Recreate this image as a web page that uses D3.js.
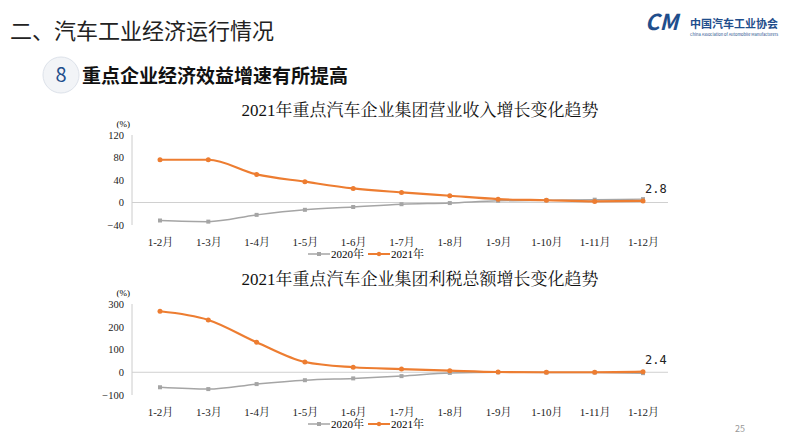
<!DOCTYPE html>
<meta charset="utf-8">
<script src="https://cdn.jsdelivr.net/npm/d3@7"></script>
<style>
body { margin:0; background:#fff; }
svg { font-family: "Noto Sans CJK SC", sans-serif; }
.serif { font-family: "Liberation Serif", "Noto Serif CJK SC", "Noto Sans CJK SC", serif !important; }
</style>
<svg id="c" width="800" height="447"></svg>
<script>
var months = ["1-2月","1-3月","1-4月","1-5月","1-6月","1-7月","1-8月","1-9月","1-10月","1-11月","1-12月"];
var rev2020 = [-32,-34,-22,-13,-8,-3,-1,3,4,5,6];
var rev2021 = [76,76,50,37,25,18,12,6,4,2,2.8];
var tax2020 = [-66,-74,-52,-35,-27,-17,-3,0,-1,-1,-4];
var tax2021 = [268,230,132,45,22,14,7,1,0,0,2.4];
var revTicks = [-40,0,40,80,120];
var taxTicks = [-100,0,100,200,300];

var svg = d3.select("#c");

// header
svg.append("text").attr("x",10).attr("y",39).attr("font-size",22).attr("fill","#222").text("二、汽车工业经济运行情况");
svg.append("circle").attr("cx",61).attr("cy",75).attr("r",18).attr("fill","#f2f4f7").attr("stroke","#dde2ea");
svg.append("text").attr("x",61).attr("y",82).attr("text-anchor","middle").attr("font-size",20).attr("fill","#1f4e8c").text("8");
svg.append("text").attr("x",82).attr("y",83).attr("font-size",19).attr("font-weight","bold").attr("fill","#111").text("重点企业经济效益增速有所提高");
svg.append("text").attr("x",645).attr("y",30).attr("font-size",22).attr("font-weight","bold").attr("fill","#1f4e8c").attr("font-style","italic").text("CM");
svg.append("text").attr("x",690).attr("y",28).attr("font-size",11).attr("font-weight","bold").attr("fill","#1f4e8c").text("中国汽车工业协会");
svg.append("text").attr("x",690).attr("y",36).attr("font-size",4).attr("fill","#1f4e8c").text("China Association of Automobile Manufacturers");
svg.append("text").attr("x",735).attr("y",432).attr("font-size",9).attr("fill","#999").text("25");

var x = d3.scalePoint().domain(months).range([160,643]);

function chart(title, ty, d20, d21, ticks, y0, y1, lastLabel) {
  var y = d3.scaleLinear().domain([ticks[0], ticks[ticks.length-1]]).range([y1, y0]);
  svg.append("text").attr("class","serif").attr("x",420).attr("y",ty).attr("text-anchor","middle").attr("font-size",17).attr("fill","#111").text(title);
  svg.append("text").attr("class","serif").attr("x",130).attr("y",y0-8).attr("text-anchor","end").attr("font-size",9).text("(%)");
  var g = svg.append("g");
  g.append("line").attr("x1",132).attr("x2",132).attr("y1",y0).attr("y2",y1).attr("stroke","#ccc");
  g.append("line").attr("x1",132).attr("x2",668).attr("y1",y(0)).attr("y2",y(0)).attr("stroke","#d0d0d0");
  var ax = g.append("g").attr("transform","translate(132,0)").call(d3.axisLeft(y).tickValues(ticks).tickSize(0).tickPadding(8));
  ax.select(".domain").remove();
  ax.selectAll("text").attr("class","serif").attr("font-size",10.5).attr("fill","#222");
  var xa = g.append("g").attr("transform","translate(0,"+(y1+10)+")").call(d3.axisBottom(x).tickSize(0));
  xa.select(".domain").remove();
  xa.selectAll("text").attr("class","serif").attr("font-size",11).attr("fill","#222");
  var line = d3.line().x(function(d,i){return x(months[i]);}).y(function(d){return y(d);}).curve(d3.curveMonotoneX);
  g.append("path").datum(d20).attr("d",line).attr("fill","none").attr("stroke","#a5a5a5").attr("stroke-width",1.5);
  g.selectAll(".p20").data(d20).enter().append("rect").attr("x",function(d,i){return x(months[i])-2;}).attr("y",function(d){return y(d)-2;}).attr("width",4).attr("height",4).attr("fill","#a5a5a5");
  g.append("path").datum(d21).attr("d",line).attr("fill","none").attr("stroke","#ed7d31").attr("stroke-width",2.2);
  g.selectAll(".p21").data(d21).enter().append("circle").attr("cx",function(d,i){return x(months[i]);}).attr("cy",function(d){return y(d);}).attr("r",2.5).attr("fill","#ed7d31");
  svg.append("text").attr("x",x(months[10])+2).attr("y",y(d21[10])-8).attr("font-family","DejaVu Sans Mono").attr("font-size",12).attr("fill","#222").text(lastLabel);
  var ly = y1 + 29;
  var lg = svg.append("g");
  lg.append("line").attr("x1",308).attr("x2",330).attr("y1",ly).attr("y2",ly).attr("stroke","#a5a5a5").attr("stroke-width",1.5);
  lg.append("rect").attr("x",317).attr("y",ly-2).attr("width",4).attr("height",4).attr("fill","#a5a5a5");
  lg.append("text").attr("class","serif").attr("x",331).attr("y",ly+4).attr("font-size",11).text("2020年");
  lg.append("line").attr("x1",368).attr("x2",390).attr("y1",ly).attr("y2",ly).attr("stroke","#ed7d31").attr("stroke-width",2);
  lg.append("circle").attr("cx",379).attr("cy",ly).attr("r",2.2).attr("fill","#ed7d31");
  lg.append("text").attr("class","serif").attr("x",391).attr("y",ly+4).attr("font-size",11).text("2021年");
}

chart("2021年重点汽车企业集团营业收入增长变化趋势", 116, rev2020, rev2021, revTicks, 135, 225, "2.8");
chart("2021年重点汽车企业集团利税总额增长变化趋势", 285, tax2020, tax2021, taxTicks, 304, 395, "2.4");
</script>
